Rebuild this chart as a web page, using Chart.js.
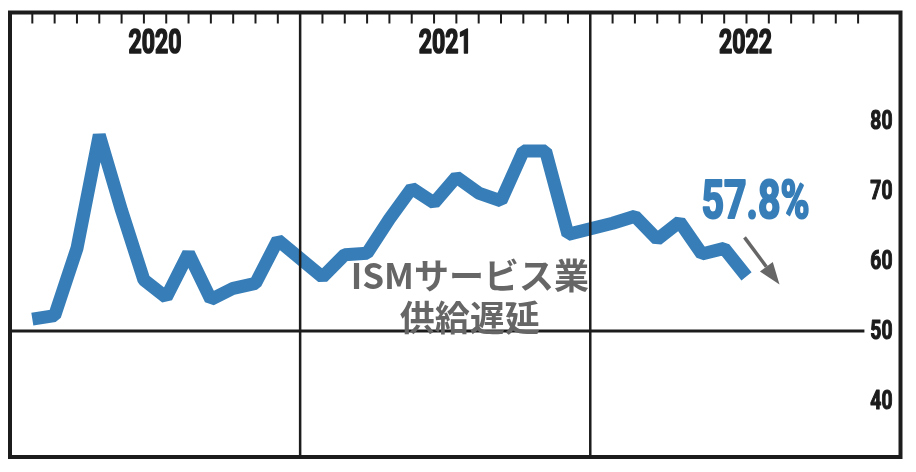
<!DOCTYPE html>
<html>
<head>
<meta charset="utf-8">
<script src="https://cdn.jsdelivr.net/npm/chart.js@4"></script>
<style>
  body { margin: 0; background: #fff; }
  #wrap { width: 916px; height: 472px; }
</style>
</head>
<body>
<div id="wrap"><canvas id="myChart" width="916" height="472"></canvas></div>
<script>
// data (monthly, %)
const years = ['2020', '2021', '2022'];
const months = [1, 2, 3, 4, 5, 6, 7, 8, 9, 10, 11, 12];
const values2020 = [51.7, 52.2, 61.8, 78.0, 67.2, 57.3, 54.8, 61.1, 54.5, 56.1, 56.8, 63.0];
const values2021 = [57.7, 60.9, 61.1, 66.0, 70.4, 68.3, 72.0, 69.7, 68.6, 75.7, 75.7, 63.8];
const values2022 = [65.4, 66.4, 63.1, 65.6, 61.0, 61.8, 57.8];
const yTicks = [40, 50, 60, 70, 80];
const titleLines = ['ISMサービス業', '供給遅延'];
const latestLabel = '57.8%';

const DARK = '#1c1c1c';
const BLUE = '#377eb8';
const GREY = '#666666';
const SLOTS = 13; // each year: boundary + 12 months

// build x/y points: year i, month m -> slot i*13 + m
const series = [values2020, values2021, values2022];
const points = [];
series.forEach((vals, i) => {
  vals.forEach((v, j) => points.push({ x: i * SLOTS + months[j], y: v }));
});

// condensed, heavy text helper
function squeezed(ctx, text, x, y, sx, bold) {
  ctx.save();
  ctx.translate(x, y);
  ctx.scale(sx, 1);
  ctx.fillText(text, 0, 0);
  if (bold) {
    ctx.lineWidth = bold;
    ctx.lineJoin = 'round';
    ctx.strokeStyle = ctx.fillStyle;
    ctx.strokeText(text, 0, 0);
  }
  ctx.restore();
}

const decor = {
  id: 'decor',
  afterDatasetsDraw(chart) {
    const ctx = chart.ctx;
    const xs = chart.scales.x, ys = chart.scales.y;
    const a = chart.chartArea;
    ctx.save();

    // year separators
    ctx.strokeStyle = DARK;
    ctx.lineWidth = 2.5;
    for (let i = 1; i < years.length; i++) {
      const px = xs.getPixelForValue(i * SLOTS);
      ctx.beginPath();
      ctx.moveTo(px, a.top);
      ctx.lineTo(px, a.bottom);
      ctx.stroke();
    }

    // month ticks along top
    ctx.lineWidth = 2;
    years.forEach((yr, i) => {
      months.forEach(m => {
        const px = xs.getPixelForValue(i * SLOTS + m);
        ctx.beginPath();
        ctx.moveTo(px, a.top);
        ctx.lineTo(px, a.top + 11);
        ctx.stroke();
      });
    });

    // 50 line
    const labX = xs.getPixelForValue(years.length * SLOTS);
    const y50 = ys.getPixelForValue(50);
    ctx.lineWidth = 3;
    ctx.beginPath();
    ctx.moveTo(a.left, y50);
    ctx.lineTo(labX - 16, y50);
    ctx.stroke();

    // frame
    ctx.lineWidth = 4;
    ctx.strokeRect(a.left, a.top, a.right - a.left, a.bottom - a.top);

    // year labels
    ctx.fillStyle = DARK;
    ctx.textAlign = 'center';
    ctx.textBaseline = 'middle';
    ctx.font = 'bold 33px Roboto, "Liberation Sans", sans-serif';
    years.forEach((yr, i) => {
      const x0 = xs.getPixelForValue(i * SLOTS);
      const x1 = i === years.length - 1 ? a.right : xs.getPixelForValue((i + 1) * SLOTS);
      squeezed(ctx, yr, (x0 + x1) / 2, a.top + 32, 0.7, 1.6);
    });

    // y tick labels
    ctx.font = 'bold 26px Roboto, "Liberation Sans", sans-serif';
    yTicks.forEach(v => {
      squeezed(ctx, String(v), labX + 1, ys.getPixelForValue(v) + 1, 0.74, 1.2);
    });

    // series title
    ctx.fillStyle = GREY;
    ctx.font = 'bold 35px "Noto Sans CJK JP", sans-serif';
    const tx = xs.getPixelForValue(20.6);
    ctx.fillText(titleLines[0], tx, ys.getPixelForValue(57.9));
    ctx.fillText(titleLines[1], tx, ys.getPixelForValue(51.9));

    // latest value + arrow
    const meta = chart.getDatasetMeta(0).data;
    const last = meta[meta.length - 1];
    ctx.fillStyle = BLUE;
    ctx.font = 'bold 53px Roboto, "Liberation Sans", sans-serif';
    squeezed(ctx, latestLabel, last.x + 9, last.y - 72, 0.74, 2.2);

    const sx = last.x - 2, sy = last.y - 39;
    const ex = last.x + 33, ey = last.y + 8;
    const ang = Math.atan2(ey - sy, ex - sx);
    const hl = 22, hw = 8;
    const bx = ex - hl * Math.cos(ang), by = ey - hl * Math.sin(ang);
    ctx.strokeStyle = GREY;
    ctx.fillStyle = GREY;
    ctx.lineWidth = 3.5;
    ctx.beginPath();
    ctx.moveTo(sx, sy);
    ctx.lineTo(bx, by);
    ctx.stroke();
    ctx.beginPath();
    ctx.moveTo(ex, ey);
    ctx.lineTo(bx + hw * Math.sin(ang), by - hw * Math.cos(ang));
    ctx.lineTo(bx - hw * Math.sin(ang), by + hw * Math.cos(ang));
    ctx.closePath();
    ctx.fill();

    ctx.restore();
  }
};

const config = {
  type: 'line',
  data: {
    datasets: [{
      data: points,
      borderColor: BLUE,
      borderWidth: 13,
      borderJoinStyle: 'bevel',
      borderCapStyle: 'butt',
      pointRadius: 0,
      tension: 0,
      fill: false,
      clip: false
    }]
  },
  options: {
    responsive: false,
    animation: false,
    events: [],
    layout: { padding: { left: 10, right: 15.5, top: 12.5, bottom: 15 } },
    scales: {
      x: { type: 'linear', min: 0, max: 39.9, display: false },
      y: { type: 'linear', min: 32, max: 95.5, display: false }
    },
    plugins: {
      legend: { display: false },
      tooltip: { enabled: false }
    }
  },
  plugins: [decor]
};

const myChart = new Chart(document.getElementById('myChart'), config);
</script>
</body>
</html>
